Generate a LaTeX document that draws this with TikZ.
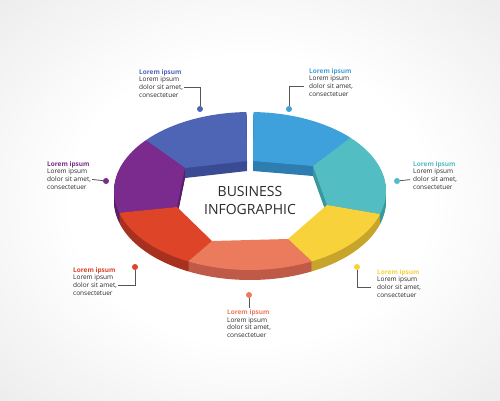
\documentclass[tikz,border=0pt]{standalone}
\usepackage{fontspec}
\setmainfont{Open Sans}
\usetikzlibrary{positioning}
\definecolor{ringblue}{HTML}{4E64B4}
\definecolor{ringbluedark}{HTML}{3A4B93}
\definecolor{ringsky}{HTML}{3FA1DB}
\definecolor{ringskydark}{HTML}{2D7DB0}
\definecolor{ringteal}{HTML}{52BDC3}
\definecolor{ringtealdark}{HTML}{3B979C}
\definecolor{ringyellow}{HTML}{F8D23A}
\definecolor{ringyellowdark}{HTML}{C7A42A}
\definecolor{ringsalmon}{HTML}{EC7B5E}
\definecolor{ringsalmondark}{HTML}{BF5A48}
\definecolor{ringred}{HTML}{DD4428}
\definecolor{ringreddark}{HTML}{A8301F}
\definecolor{ringpurple}{HTML}{7A2B8D}
\definecolor{ringpurpledark}{HTML}{581E68}
\definecolor{textgray}{HTML}{2B2B2B}
\definecolor{linegray}{HTML}{555555}
\pgfdeclareradialshading{backdrop}{\pgfpoint{0bp}{0bp}}{color(0bp)=(white); color(18bp)=(white); color(50bp)=(black!13); color(72bp)=(black!17)}

% ring piece: colour, start angle, end angle, inner corner at end, inner corner at start
\newcommand{\ringpiece}[5]{%
  \foreach \dz in {10,9,...,1}
    \fill[#1dark, yshift=-\dz pt] plot[domain=#2:#3, samples=24] ({250+136*cos(\x)}, {191-79*sin(\x)}) -- #4 -- #5 -- cycle;
  \fill[#1] plot[domain=#2:#3, samples=24] ({250+136*cos(\x)}, {191-79*sin(\x)}) -- #4 -- #5 -- cycle;
}

\begin{document}
\begin{tikzpicture}[x=1pt, y=-1pt,
  dot/.style={circle, minimum size=6pt, inner sep=0pt},
  lbl/.style={align=left, inner sep=1pt, text=textgray, font=\fontsize{6.5}{7.8}\selectfont},
  link/.style={draw=linegray, line width=0.8pt}]
  \useasboundingbox (0,0) rectangle (500,400);
  \shade[shading=backdrop] (0,0) rectangle (500,400);

  % ring, back pieces first
  \ringpiece{ringblue}{91.5}{140}{(185,168)}{(247,161)}
  \ringpiece{ringsky}{42.5}{88.5}{(253,161)}{(313,166)}
  \ringpiece{ringpurple}{140}{196}{(177,207)}{(185,168)}
  \ringpiece{ringteal}{343}{402.5}{(313,166)}{(327,205)}
  \ringpiece{ringred}{196}{243}{(212,241)}{(177,207)}
  \ringpiece{ringyellow}{297}{343}{(327,205)}{(288,239)}
  \ringpiece{ringsalmon}{243}{297}{(288,239)}{(212,241)}

  \node[font=\fontsize{14}{18}\selectfont, text=textgray, align=center] (title) at (250,200) {BUSINESS\\INFOGRAPHIC};

  % markers
  \node[dot, fill=ringblue] (dBlue) at (200,109) {};
  \node[dot, fill=ringsky] (dSky) at (289,109) {};
  \node[dot, fill=ringpurple] (dPurple) at (106,181) {};
  \node[dot, fill=ringteal] (dTeal) at (397,181) {};
  \node[dot, fill=ringred] (dRed) at (135,267) {};
  \node[dot, fill=ringyellow] (dYellow) at (357,267) {};
  \node[dot, fill=ringsalmon] (dSalmon) at (249,295) {};

  % texts
  \node[lbl, anchor=north west] (tBlue) at (138,68) {\textbf{\textcolor{ringblue}{Lorem ipsum}}\\Lorem ipsum\\dolor sit amet,\\consectetuer};
  \node[lbl, anchor=north west] (tSky) at (308,67) {\textbf{\textcolor{ringsky}{Lorem ipsum}}\\Lorem ipsum\\dolor sit amet,\\consectetuer};
  \node[lbl, anchor=north west] (tPurple) at (46,160) {\textbf{\textcolor{ringpurple}{Lorem ipsum}}\\Lorem ipsum\\dolor sit amet,\\consectetuer};
  \node[lbl, anchor=north west] (tTeal) at (412,160) {\textbf{\textcolor{ringteal}{Lorem ipsum}}\\Lorem ipsum\\dolor sit amet,\\consectetuer};
  \node[lbl, anchor=north west] (tRed) at (72,266) {\textbf{\textcolor{ringred}{Lorem ipsum}}\\Lorem ipsum\\dolor sit amet,\\consectetuer};
  \node[lbl, anchor=north west] (tYellow) at (376,268) {\textbf{\textcolor{ringyellow}{Lorem ipsum}}\\Lorem ipsum\\dolor sit amet,\\consectetuer};
  \node[lbl, below=10pt of dSalmon] (tSalmon) {\textbf{\textcolor{ringsalmon}{Lorem ipsum}}\\Lorem ipsum\\dolor sit amet,\\consectetuer};

  \draw[link] ([yshift=-4pt]tBlue.east) -| (dBlue);
  \draw[link, shorten >=4pt] (dSky) |- ([yshift=-4pt]tSky.west);
  \draw[link] ([yshift=-4pt]tPurple.east) -- (dPurple);
  \draw[link, shorten >=2pt] (dTeal) -- ([yshift=-4pt]tTeal.west);
  \draw[link] ([yshift=-4pt]tRed.east) -| (dRed);
  \draw[link, shorten >=5pt] (dYellow) |- ([yshift=-4pt]tYellow.west);
  \draw[link] (dSalmon) -- (tSalmon);
\end{tikzpicture}
\end{document}
